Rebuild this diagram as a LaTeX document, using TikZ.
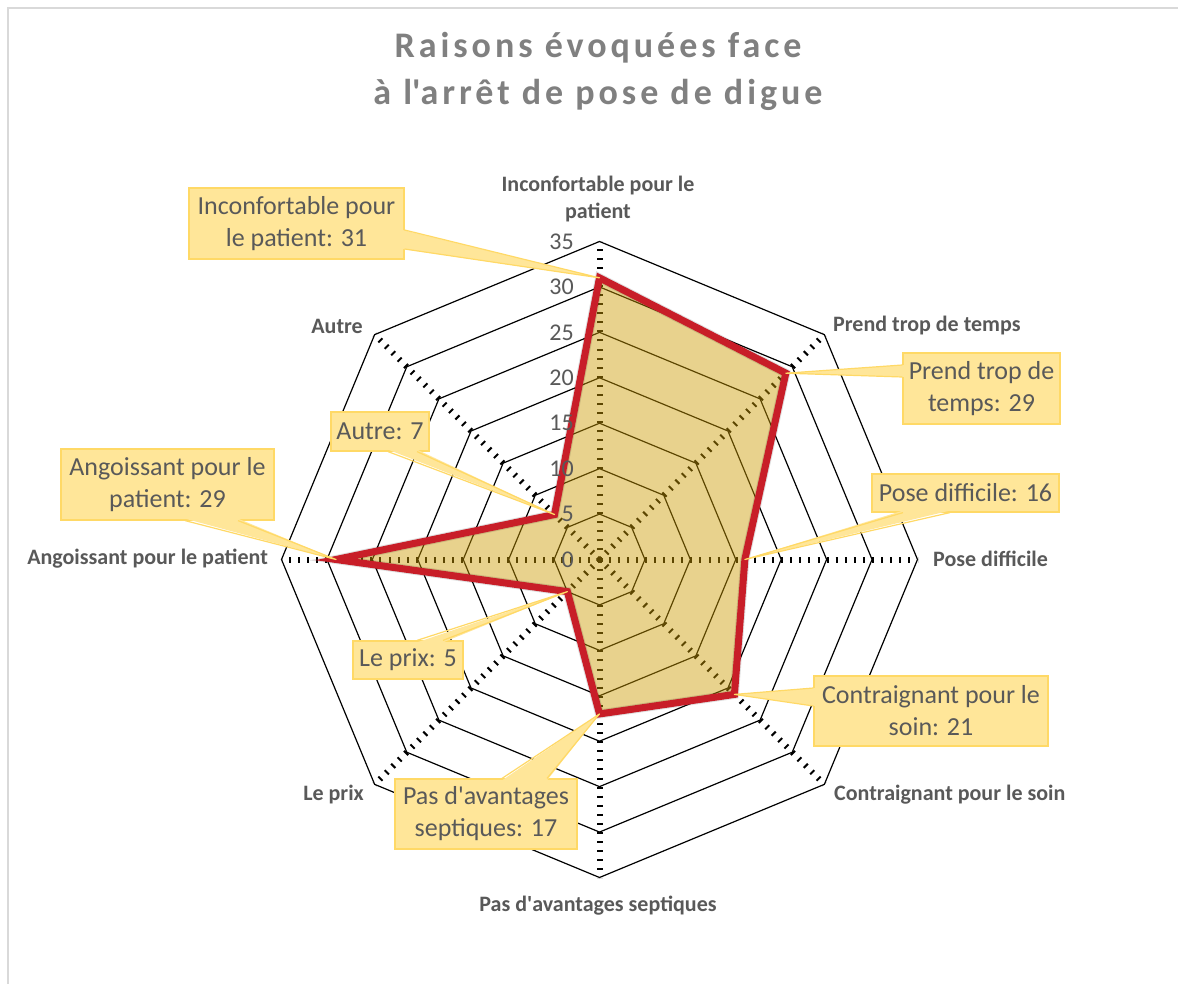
\documentclass[tikz,border=0pt]{standalone}
\usepackage{fontspec}
\setmainfont{Carlito}
\newfontfamily\titlefont[LetterSpace=11]{Carlito}
\usetikzlibrary{calc}
\definecolor{labgray}{RGB}{89,89,89}
\definecolor{titlegray}{RGB}{128,128,128}
\definecolor{calfill}{RGB}{255,230,153}
\definecolor{calline}{RGB}{255,217,102}
\definecolor{serred}{RGB}{200,30,40}
\definecolor{serfill}{RGB}{206,157,4}
\definecolor{framegray}{RGB}{217,217,217}
\newcommand\calwedge[4]{%
  \fill[calfill] ($(#1)+(#3)$) -- (#4) -- ($(#2)+(#3)$) -- cycle;
  \draw[calline, line width=1.2pt, line join=round] (#1) -- (#4) -- (#2);}
\begin{document}
\begin{tikzpicture}[x=1pt,y=-1pt,
  ring/.style={black, line width=1.2pt, line join=miter},
  spoke/.style={black, line width=6pt, dash pattern=on 2pt off 7.0857pt},
  series/.style={serred, line width=7pt, line join=miter},
  numlab/.style={text=labgray, font=\fontsize{24}{28}\selectfont, inner sep=0pt, anchor=east},
  catlab/.style={text=labgray, font=\fontsize{22}{27}\selectfont\bfseries, inner sep=0pt, align=center},
  callout/.style={fill=calfill, draw=calline, line width=1.2pt, text=labgray,
    font=\fontsize{26}{32}\selectfont, align=center, inner sep=0pt},
  titlelab/.style={text=titlegray, font=\titlefont\bfseries\fontsize{36}{47}\selectfont, align=center, inner sep=0pt}
]
\useasboundingbox (0,0) rectangle (1178,984);
\fill[white] (0,0) rectangle (1178,984);
\draw[framegray, line width=1.2pt] (8,990) -- (8,8) -- (1190,8);

\def\cx{599.5}\def\cy{559.5}\def\u{9.0857}
\coordinate (O) at (\cx,\cy);

% title
\node[titlelab] (title) at (598,71.5) {Raisons évoquées face\\à l\textquotesingle arrêt de pose de digue};

% rings
\foreach \k in {1,...,7}{
  \pgfmathsetmacro\r{5*\k*\u}
  \draw[ring] plot[samples at={0,45,...,315}] ({\cx+\r*sin(\x)},{\cy-\r*cos(\x)}) -- cycle;
}
% spokes
\foreach \i in {0,...,7}{
  \coordinate (a\i) at ({\cx+35*\u*sin(45*\i)},{\cy-35*\u*cos(45*\i)});
  \draw[spoke] (O) -- (a\i);
}
% data points
\foreach \i/\v in {0/31,1/29,2/16,3/21,4/17,5/5,6/29,7/7}{
  \coordinate (p\i) at ({\cx+\v*\u*sin(45*\i)},{\cy-\v*\u*cos(45*\i)});
}
\fill[serfill, opacity=0.45] (p0) -- (p1) -- (p2) -- (p3) -- (p4) -- (p5) -- (p6) -- (p7) -- cycle;
\begin{scope}[shift={(3,3)}]
\draw[black, opacity=0.12, line width=9pt, line join=miter] (p0) -- (p1) -- (p2) -- (p3) -- (p4) -- (p5) -- (p6) -- (p7) -- cycle;
\end{scope}
\draw[series] (p0) -- (p1) -- (p2) -- (p3) -- (p4) -- (p5) -- (p6) -- (p7) -- cycle;

% value labels
\foreach \k/\t in {0/0,1/5,2/10,3/15,4/20,5/25,6/30,7/35}{
  \node[numlab] (n\k) at (574,{\cy-5*\k*\u}) {\t};
}

% category labels
\node[catlab] (k0) at (598,199.5) {Inconfortable pour le\\patient};
\node[catlab, anchor=west] (k1) at (833,326) {Prend trop de temps};
\node[catlab, anchor=west] (k2) at (933,559) {Pose difficile};
\node[catlab, anchor=west] (k3) at (834,795) {Contraignant pour le soin};
\node[catlab] (k4) at (598,906) {Pas d\textquotesingle avantages septiques};
\node[catlab, anchor=east] (k5) at (364,795) {Le prix};
\node[catlab, anchor=east] (k6) at (268,559) {Angoissant pour le patient};
\node[catlab, anchor=east] (k7) at (363,326) {Autre};

% callouts
\node[callout, minimum width=215pt, minimum height=71pt] (c0) at (296.5,223.5) {Inconfortable pour\\le patient: 31};
\node[callout, minimum width=157pt, minimum height=71pt] (c1) at (981.5,388.5) {Prend trop de\\temps: 29};
\node[callout, minimum width=187pt, minimum height=38pt] (c2) at (965.5,493) {Pose difficile: 16};
\node[callout, minimum width=234pt, minimum height=70pt] (c3) at (931,711) {Contraignant pour le\\soin: 21};
\node[callout, minimum width=182pt, minimum height=70pt] (c4) at (486,814) {Pas d\textquotesingle avantages\\septiques: 17};
\node[callout, minimum width=110pt, minimum height=38pt] (c5) at (408,660) {Le prix: 5};
\node[callout, minimum width=213pt, minimum height=71pt] (c6) at (167.5,484.5) {Angoissant pour le\\patient: 29};
\node[callout, minimum width=98pt, minimum height=39pt] (c7) at (380,431.5) {Autre: 7};

\coordinate (c0a) at ($(c0.east)+(0,6.5)$);   \coordinate (c0b) at ($(c0.east)+(0,25.5)$);
\coordinate (c1a) at ($(c1.west)+(0,-23.5)$); \coordinate (c1b) at ($(c1.west)+(0,-11.5)$);
\coordinate (c2a) at ($(c2.south)+(-62.5,0)$); \coordinate (c2b) at ($(c2.south)+(-15.5,0)$);
\coordinate (c3a) at ($(c3.west)+(0,-23)$);   \coordinate (c3b) at ($(c3.west)+(0,-5)$);
\coordinate (c4a) at ($(c4.north)+(16,0)$);   \coordinate (c4b) at ($(c4.north)+(61,0)$);
\coordinate (c5a) at ($(c5.north)+(9,0)$);    \coordinate (c5b) at ($(c5.north)+(35,0)$);
\coordinate (c6a) at ($(c6.south)+(17.5,0)$); \coordinate (c6b) at ($(c6.south)+(70.5,0)$);
\coordinate (c7a) at ($(c7.south)+(8,0)$);    \coordinate (c7b) at ($(c7.south)+(37,0)$);

\calwedge{c0a}{c0b}{-2,0}{p0}
\calwedge{c1a}{c1b}{2,0}{p1}
\calwedge{c2a}{c2b}{0,-2}{p2}
\calwedge{c3a}{c3b}{2,0}{p3}
\calwedge{c4a}{c4b}{0,2}{p4}
\calwedge{c5a}{c5b}{0,2}{p5}
\calwedge{c6a}{c6b}{0,-2}{p6}
\calwedge{c7a}{c7b}{0,-2}{p7}
\end{tikzpicture}
\end{document}
